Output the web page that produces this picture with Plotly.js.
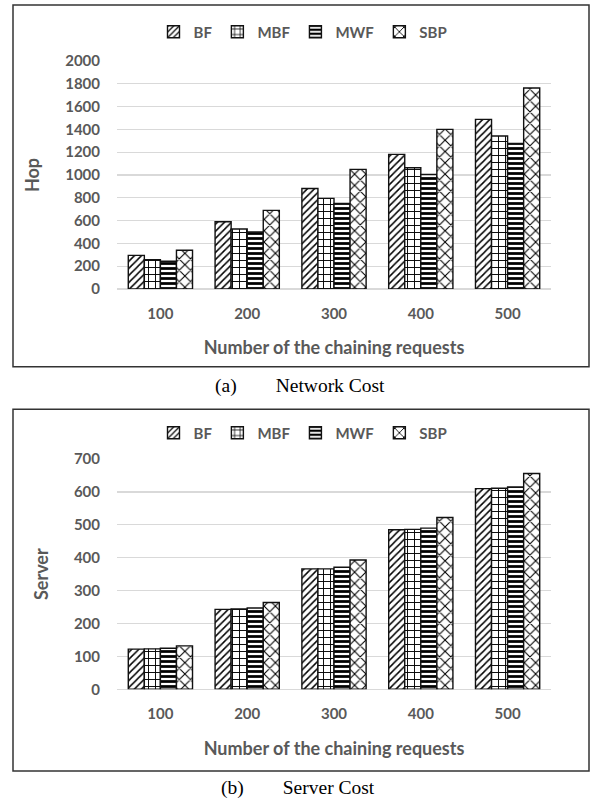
<!DOCTYPE html>
<html><head><meta charset="utf-8">
<script src="https://cdn.plot.ly/plotly-3.0.1.min.js"></script>
<style>html,body{margin:0;padding:0;background:#fff}#c{width:596px;height:804px}</style>
</head><body><div id="c"></div>
<script>
const categories = ['100', '200', '300', '400', '500'];
const seriesNames = ['BF', 'MBF', 'MWF', 'SBP'];
// (a) Network Cost - Hop
const hopBF  = [295, 590, 882, 1181, 1488];
const hopMBF = [257, 526, 795, 1064, 1342];
const hopMWF = [243, 500, 751, 1005, 1277];
const hopSBP = [340, 690, 1049, 1400, 1763];
// (b) Server Cost - Server
const srvBF  = [122, 243, 366, 485, 610];
const srvMBF = [123, 244, 366, 486, 611];
const srvMWF = [125, 247, 371, 490, 615];
const srvSBP = [132, 264, 393, 522, 656];

const W = 596, H = 804;
const px = x => x / W;
const py = y => (H - y) / H;

const patterns = [
  {shape: '/', size: 5, solidity: 0.3},
  {shape: '+', size: 7, solidity: 0.25},
  {shape: '-', size: 5, solidity: 0.55},
  {shape: 'x', size: 8, solidity: 0.25}
];
const FONT = 'Lato, "Open Sans", sans-serif';
const GRAY = '#595959';

function mk(vals, i, xa, ya, lg, show) {
  const p = patterns[i];
  return {
    type: 'bar', x: categories, y: vals, name: seriesNames[i],
    xaxis: xa, yaxis: ya, legend: lg, showlegend: show,
    marker: {color: 'white', line: {color: '#111', width: 1.4},
      pattern: {shape: p.shape, size: p.size, solidity: p.solidity, fgcolor: '#000', bgcolor: '#fff', fillmode: 'replace'}},
    hoverinfo: 'skip'
  };
}
const topSets = [hopBF, hopMBF, hopMWF, hopSBP];
const botSets = [srvBF, srvMBF, srvMWF, srvSBP];
const data = [];
topSets.forEach((v, i) => data.push(mk(v, i, 'x', 'y', 'legend', true)));
botSets.forEach((v, i) => data.push(mk(v, i, 'x2', 'y2', 'legend2', true)));

const tickFont = {family: FONT, size: 15, color: GRAY, weight: 'bold'};
const titleFont = {family: FONT, size: 18, color: GRAY, weight: 'bold'};

function xax(anchor, standoff) {
  return {domain: [px(117), px(551)], anchor: anchor, type: 'category',
    showgrid: false, showline: false, zeroline: false, ticks: '',
    tickfont: tickFont, ticklabelstandoff: 14,
    title: {text: 'Number of the chaining requests', font: titleFont, standoff: standoff}};
}
function yax(anchor, dom, range, dtick, title) {
  return {domain: dom, anchor: anchor, range: range, dtick: dtick,
    showgrid: true, gridcolor: '#d9d9d9', gridwidth: 1.2,
    zeroline: true, zerolinecolor: '#d9d9d9', zerolinewidth: 1.2,
    showline: false, ticks: '', tickfont: tickFont, ticklabelstandoff: 16,
    title: {text: title, font: titleFont, standoff: 20}};
}

const legFont = {family: FONT, size: 15, color: GRAY, weight: 'bold'};
const layout = {
  width: W, height: H, margin: {l: 0, r: 0, t: 0, b: 0},
  paper_bgcolor: '#fff', plot_bgcolor: '#fff',
  barmode: 'group', bargap: 0.26, bargroupgap: 0,
  xaxis: xax('y', 20),
  yaxis: yax('x', [py(289), py(61)], [0, 2000], 200, 'Hop'),
  xaxis2: xax('y2', 21),
  yaxis2: yax('x2', [py(689.3), py(459)], [0, 700], 100, 'Server'),
  legend: {orientation: 'h', x: px(303), xanchor: 'center', y: py(32), yanchor: 'middle',
    font: legFont, itemwidth: 30, tracegroupgap: 0, bgcolor: 'rgba(0,0,0,0)'},
  legend2: {orientation: 'h', x: px(303), xanchor: 'center', y: py(433), yanchor: 'middle',
    font: legFont, itemwidth: 30, tracegroupgap: 0, bgcolor: 'rgba(0,0,0,0)'},
  shapes: [
    {type: 'rect', xref: 'paper', yref: 'paper', x0: px(13), x1: px(589), y0: py(366.7), y1: py(5),
      line: {color: '#333', width: 1.5}},
    {type: 'rect', xref: 'paper', yref: 'paper', x0: px(13), x1: px(589), y0: py(771), y1: py(409.3),
      line: {color: '#333', width: 1.5}}
  ],
  annotations: [
    {text: '(a)&nbsp;&nbsp;&nbsp;&nbsp;&nbsp;&nbsp;&nbsp;&nbsp;Network Cost', xref: 'paper', yref: 'paper', x: px(300), y: py(386),
      xanchor: 'center', yanchor: 'middle', showarrow: false,
      font: {family: '"Liberation Serif", "Times New Roman", serif', size: 19.5, color: '#000'}},
    {text: '(b)&nbsp;&nbsp;&nbsp;&nbsp;&nbsp;&nbsp;&nbsp;&nbsp;Server Cost', xref: 'paper', yref: 'paper', x: px(298), y: py(788),
      xanchor: 'center', yanchor: 'middle', showarrow: false,
      font: {family: '"Liberation Serif", "Times New Roman", serif', size: 19.5, color: '#000'}}
  ]
};
Plotly.newPlot('c', data, layout, {staticPlot: true, displayModeBar: false});
</script></body></html>
